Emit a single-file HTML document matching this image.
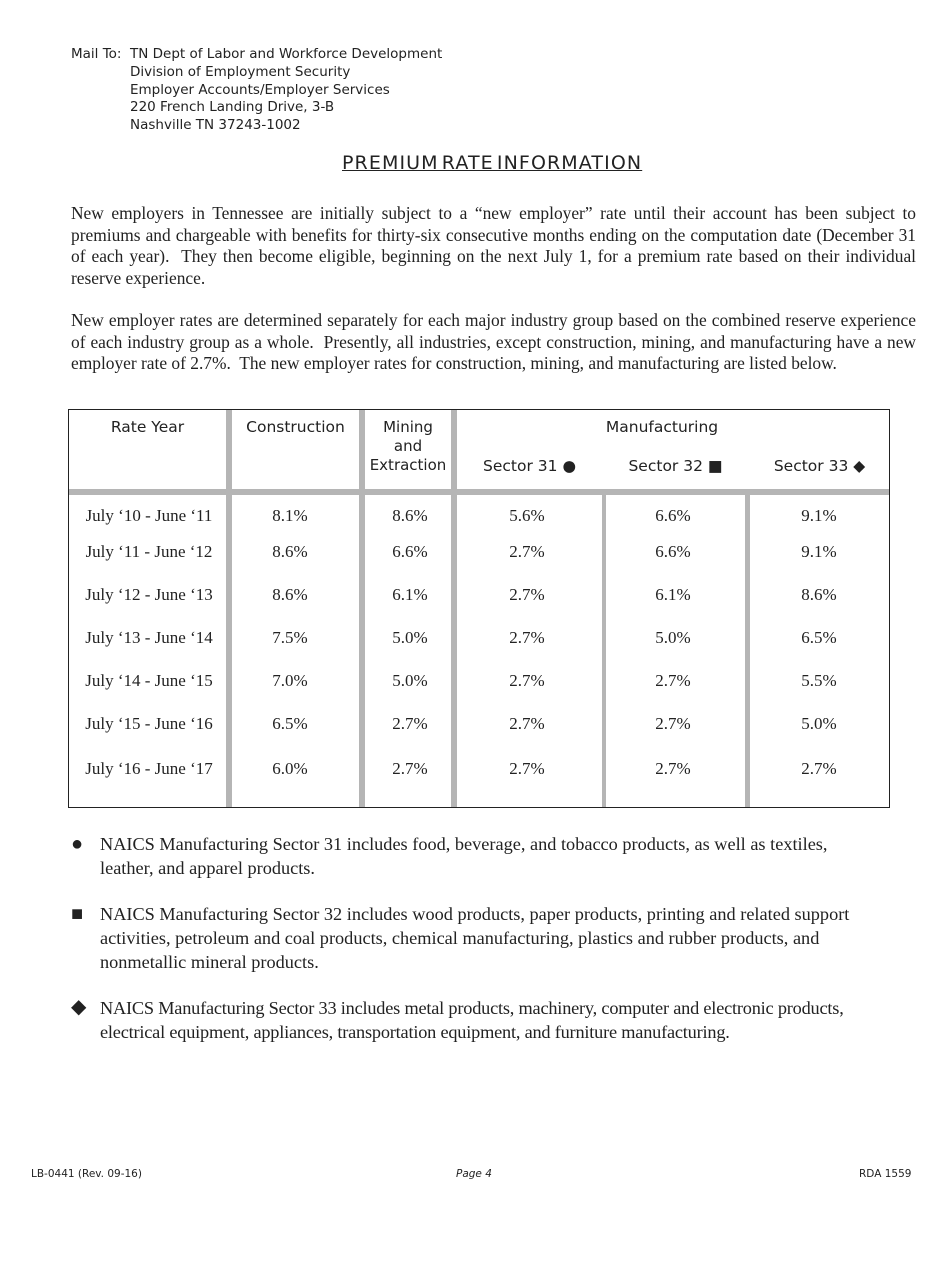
<!DOCTYPE html>
<html><head><meta charset="utf-8"><style>
body{margin:0;width:950px;height:1287px;background:#fff;position:relative;color:#222;}
.s{font-family:"DejaVu Sans","Liberation Sans",sans-serif;}
.a{position:absolute;white-space:nowrap;}
p.b{position:absolute;left:71px;width:845px;margin:0;font-family:"Liberation Serif",serif;font-size:17.4px;line-height:21.5px;text-align:justify;}
p.u{position:absolute;left:100px;width:800px;margin:0;font-family:"Liberation Serif",serif;font-size:18.3px;line-height:24px;}
.g{position:absolute;background:#b5b5b5;}
.c{position:absolute;width:120px;text-align:center;font-family:"Liberation Serif",serif;font-size:17px;}
.h{position:absolute;text-align:center;font-family:"DejaVu Sans",sans-serif;font-size:15.5px;}
.k{position:absolute;left:71px;font-size:20px;line-height:20px;}
</style></head><body>
<div class="a s" style="left:71px;top:46px;font-size:13.5px;line-height:17.8px">Mail To:</div>
<div class="a s" style="left:130px;top:46px;font-size:13.5px;line-height:17.8px">TN Dept of Labor and Workforce Development<br>Division of Employment Security<br>Employer Accounts/Employer Services<br>220 French Landing Drive, 3-B<br>Nashville TN 37243-1002</div>
<div class="a s" style="left:342px;top:152px;font-size:19px;text-decoration:underline;letter-spacing:1.1px;word-spacing:-4px">PREMIUM RATE INFORMATION</div>
<p class="b" style="top:203px">New employers in Tennessee are initially subject to a “new employer” rate until their account has been subject to premiums and chargeable with benefits for thirty-six consecutive months ending on the computation date (December 31 of each year).&nbsp; They then become eligible, beginning on the next July 1, for a premium rate based on their individual reserve experience.</p>
<p class="b" style="top:310px">New employer rates are determined separately for each major industry group based on the combined reserve experience of each industry group as a whole.&nbsp; Presently, all industries, except construction, mining, and manufacturing have a new employer rate of 2.7%.&nbsp; The new employer rates for construction, mining, and manufacturing are listed below.</p>
<div style="position:absolute;left:68px;top:409px;width:820px;height:397px;border:1px solid #222"></div>
<div class="g" style="left:69px;top:489px;width:820px;height:6px"></div>
<div class="g" style="left:226px;top:410px;width:6px;height:397px"></div>
<div class="g" style="left:359px;top:410px;width:6px;height:397px"></div>
<div class="g" style="left:451px;top:410px;width:6px;height:397px"></div>
<div class="g" style="left:602px;top:495px;width:4px;height:312px"></div>
<div class="g" style="left:745px;top:495px;width:5px;height:312px"></div>
<div class="h" style="left:69px;width:157px;top:418px">Rate Year</div>
<div class="h" style="left:232px;width:127px;top:418px">Construction</div>
<div class="h" style="left:365px;width:86px;top:418px;line-height:19px;font-size:15px">Mining<br>and<br>Extraction</div>
<div class="h" style="left:457px;width:410px;top:418px">Manufacturing</div>
<div class="h" style="left:457px;width:145px;top:457px">Sector 31 ●</div>
<div class="h" style="left:606px;width:139px;top:457px">Sector 32 ■</div>
<div class="h" style="left:750px;width:139px;top:457px">Sector 33 ◆</div>
<div id="rows"></div>
<script>
var d=[["July ‘10 - June ‘11","8.1%","8.6%","5.6%","6.6%","9.1%",506],
["July ‘11 - June ‘12","8.6%","6.6%","2.7%","6.6%","9.1%",542],
["July ‘12 - June ‘13","8.6%","6.1%","2.7%","6.1%","8.6%",585],
["July ‘13 - June ‘14","7.5%","5.0%","2.7%","5.0%","6.5%",628],
["July ‘14 - June ‘15","7.0%","5.0%","2.7%","2.7%","5.5%",671],
["July ‘15 - June ‘16","6.5%","2.7%","2.7%","2.7%","5.0%",714],
["July ‘16 - June ‘17","6.0%","2.7%","2.7%","2.7%","2.7%",759]];
var cx=[149,290,410,527,673,819],h="";
d.forEach(function(r){for(var i=0;i<6;i++){var w=i==0?150:120;h+='<div class="c" style="width:'+w+'px;left:'+(cx[i]-w/2)+'px;top:'+r[6]+'px">'+r[i]+'</div>';}});
document.getElementById('rows').innerHTML=h;
</script>
<div class="k" style="top:834px">●</div>
<p class="u" style="top:832px;width:760px">NAICS Manufacturing Sector 31 includes food, beverage, and tobacco products, as well as textiles, leather, and apparel products.</p>
<div class="k" style="top:904px">■</div>
<p class="u" style="top:902px;width:790px">NAICS Manufacturing Sector 32 includes wood products, paper products, printing and related support activities, petroleum and coal products, chemical manufacturing, plastics and rubber products, and nonmetallic mineral products.</p>
<div class="k" style="top:997px">◆</div>
<p class="u" style="top:996px;width:775px;letter-spacing:-0.2px">NAICS Manufacturing Sector 33 includes metal products, machinery, computer and electronic products, electrical equipment, appliances, transportation equipment, and furniture manufacturing.</p>
<div class="a s" style="left:31px;top:1168px;font-size:10.5px">LB-0441 (Rev. 09-16)</div>
<div class="a s" style="left:456px;top:1168px;font-size:10.5px;font-style:italic">Page 4</div>
<div class="a s" style="left:859px;top:1168px;font-size:10.5px">RDA 1559</div>
</body></html>
